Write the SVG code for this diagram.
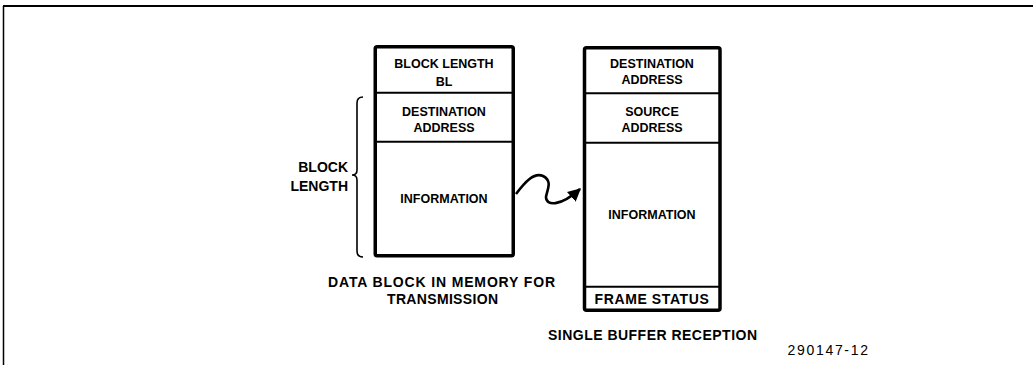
<svg xmlns="http://www.w3.org/2000/svg" width="1033" height="365" viewBox="0 0 1033 365">
<style>
.box{fill:#fff;stroke:#000;stroke-width:3.5}
.div{stroke:#000;stroke-width:2}
.t{font-family:"Liberation Sans",Arial,sans-serif;font-weight:bold;font-size:12.5px;text-anchor:middle;dominant-baseline:central;fill:#000}
.lb{font-family:"Liberation Sans",Arial,sans-serif;font-weight:bold;font-size:14px;fill:#000;dominant-baseline:central}
.ln{fill:none;stroke:#000}
</style>
<defs>
<marker id="ah" viewBox="0 0 10 10" refX="9" refY="5" markerWidth="5" markerHeight="5" orient="auto" markerUnits="strokeWidth">
<path d="M0,0 L10,5 L0,10 z" fill="#000"/>
</marker>
</defs>
<rect width="1033" height="365" fill="#fff"/>
<g id="frame">
<line class="ln" x1="3" y1="6" x2="1033" y2="6" stroke-width="2"/>
<line class="ln" x1="3.5" y1="6" x2="3.5" y2="365" stroke-width="1.5"/>
</g>
<g id="tx-block">
<rect class="box" x="375.25" y="46.75" width="138" height="209" rx="2"/>
<line class="div" x1="375" y1="92.7" x2="513" y2="92.7"/>
<line class="div" x1="375" y1="141.7" x2="513" y2="141.7"/>
<text class="t" x="444" y="64">BLOCK LENGTH</text>
<text class="t" x="444" y="81.5">BL</text>
<text class="t" x="444" y="111.5">DESTINATION</text>
<text class="t" x="444" y="128">ADDRESS</text>
<text class="t" x="444" y="199">INFORMATION</text>
</g>
<g id="rx-buffer">
<rect class="box" x="584.5" y="47.75" width="135.5" height="262.5" rx="2"/>
<line class="div" x1="584" y1="93.3" x2="720" y2="93.3"/>
<line class="div" x1="584" y1="142.7" x2="720" y2="142.7"/>
<line class="div" x1="584" y1="286.7" x2="720" y2="286.7"/>
<text class="t" x="652" y="63.5">DESTINATION</text>
<text class="t" x="652" y="80">ADDRESS</text>
<text class="t" x="652" y="111.7">SOURCE</text>
<text class="t" x="652" y="128.3">ADDRESS</text>
<text class="t" x="652" y="215">INFORMATION</text>
<text class="lb" x="652" y="298.5" text-anchor="middle" letter-spacing="0.6">FRAME STATUS</text>
</g>
<g id="brace">
<path class="ln" stroke-width="1.6" d="M363,97 Q357,97 357,103 L357,170 Q357,175 352,175 Q357,175 357,180 L357,251 Q357,257 363,257"/>
<text class="lb" x="348" y="166.7" text-anchor="end">BLOCK</text>
<text class="lb" x="348" y="186" text-anchor="end">LENGTH</text>
</g>
<g id="connectors">
<path class="ln" stroke-width="2.6" marker-end="url(#ah)" d="M516,194 C525,182 534,172 543,176 C553,181 547,190 546,197 C546,206 560,207 580,189"/>
</g>
<g id="captions">
<text class="lb" x="328" y="282" textLength="227" lengthAdjust="spacing">DATA BLOCK IN MEMORY FOR</text>
<text class="lb" x="387" y="299" textLength="111" lengthAdjust="spacing">TRANSMISSION</text>
<text class="lb" x="548" y="335" textLength="209" lengthAdjust="spacing">SINGLE BUFFER RECEPTION</text>
<text x="787.5" y="350" font-family="Liberation Sans,Arial,sans-serif" font-size="14" dominant-baseline="central" textLength="80.5" lengthAdjust="spacing">290147-12</text>
</g>
</svg>
